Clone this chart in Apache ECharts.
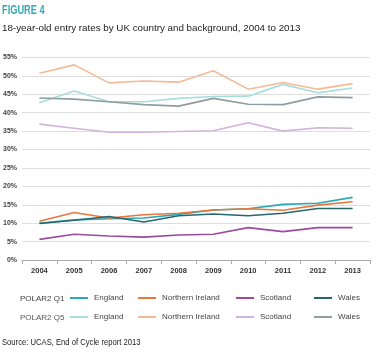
<!DOCTYPE html>
<html><head><meta charset="utf-8">
<script src="https://cdn.jsdelivr.net/npm/echarts@6/dist/echarts.min.js"></script>
<style>html,body{margin:0;padding:0;background:#fff}#c{width:376px;height:356px}</style>
</head><body><div id="c"></div>
<script>
const years = ['2004','2005','2006','2007','2008','2009','2010','2011','2012','2013'];
const q1England  = [10.0,10.9,11.2,11.4,12.4,13.6,13.9,15.1,15.4,17.0];
const q1NIreland = [10.5,12.9,11.4,12.3,12.7,13.6,13.9,13.5,14.9,15.8];
const q1Scotland = [5.6,7.0,6.5,6.2,6.8,7.0,8.8,7.7,8.8,8.8];
const q1Wales    = [9.9,10.8,11.8,10.3,12.0,12.5,12.0,12.7,14.0,14.0];
const q5England  = [42.7,45.9,43.0,43.0,43.9,44.4,44.5,47.7,45.4,46.7];
const q5NIreland = [50.7,53.0,48.1,48.6,48.3,51.4,46.4,48.2,46.4,47.9];
const q5Scotland = [36.9,35.8,34.7,34.7,34.9,35.1,37.3,35.0,35.9,35.8];
const q5Wales    = [44.0,43.7,43.0,42.2,41.8,43.9,42.3,42.2,44.3,44.1];

const seriesDefs = [
  {id:'q1e', name:'England', data:q1England, color:'#27aab5'},
  {id:'q1n', name:'Northern Ireland', data:q1NIreland, color:'#e8773a'},
  {id:'q1s', name:'Scotland', data:q1Scotland, color:'#9a4c9c'},
  {id:'q1w', name:'Wales', data:q1Wales, color:'#2a6670'},
  {id:'q5e', name:'England ', data:q5England, color:'#a9dcdc'},
  {id:'q5n', name:'Northern Ireland ', data:q5NIreland, color:'#f6b996'},
  {id:'q5s', name:'Scotland ', data:q5Scotland, color:'#d3b2dd'},
  {id:'q5w', name:'Wales ', data:q5Wales, color:'#8f9ea0'}
];
const legendLeft = [70,138,236,314];
const font = '"Liberation Sans",sans-serif';
const legends = seriesDefs.map((s,i)=>({
  data:[s.name], left: legendLeft[i%4], top: i<4 ? 294 : 313, padding:0,
  itemWidth:18, itemHeight:2, itemGap:0, icon:'rect',
  textStyle:{fontFamily:font, fontSize:8, color:'#444', padding:[0,0,0,1]},
  selectedMode:false
}));
const chart = echarts.init(document.getElementById('c'), null, {renderer:'canvas'});
chart.setOption({
  animation:false,
  textStyle:{fontFamily:font},
  graphic:[
    {type:'text', x:2, y:11, scaleX:0.74, style:{text:'FIGURE 4', font:'bold 12.5px '+font, fill:'#35a8b3', verticalAlign:'middle'}},
    {type:'text', x:2, y:28, style:{text:'18-year-old entry rates by UK country and background, 2004 to 2013', font:'9.8px '+font, fill:'#222', verticalAlign:'middle'}},
    {type:'text', x:2, y:343, scaleX:0.85, style:{text:'Source: UCAS, End of Cycle report 2013', font:'9px '+font, fill:'#222', verticalAlign:'middle'}},
    {type:'text', x:20, y:299, style:{text:'POLAR2 Q1', font:'8px '+font, fill:'#444', verticalAlign:'middle'}},
    {type:'text', x:20, y:318, style:{text:'POLAR2 Q5', font:'8px '+font, fill:'#555', verticalAlign:'middle'}}
  ],
  legend: legends,
  grid:{left:20, right:6, top:57.5, height:202.5, containLabel:false},
  xAxis:{type:'category', data:years, boundaryGap:true,
    axisLine:{lineStyle:{color:'#aaa', width:1}},
    axisTick:{show:true, length:4, lineStyle:{color:'#aaa'}},
    axisLabel:{fontFamily:font, fontWeight:'bold', fontSize:7.5, color:'#333', margin:7}},
  yAxis:{type:'value', min:0, max:55, interval:5,
    axisLine:{show:false}, axisTick:{show:false},
    axisLabel:{fontFamily:font, fontWeight:'bold', fontSize:7, color:'#444', margin:5, formatter:v=>v+'%'},
    splitLine:{lineStyle:{color:'#dedede', width:1.2}}},
  series: seriesDefs.map(s=>({
    type:'line', name:s.name, data:s.data, symbol:'none', smooth:false,
    lineStyle:{color:s.color, width:1.6}, itemStyle:{color:s.color},
    z: s.id.startsWith('q1')?3:2
  }))
});
</script></body></html>
